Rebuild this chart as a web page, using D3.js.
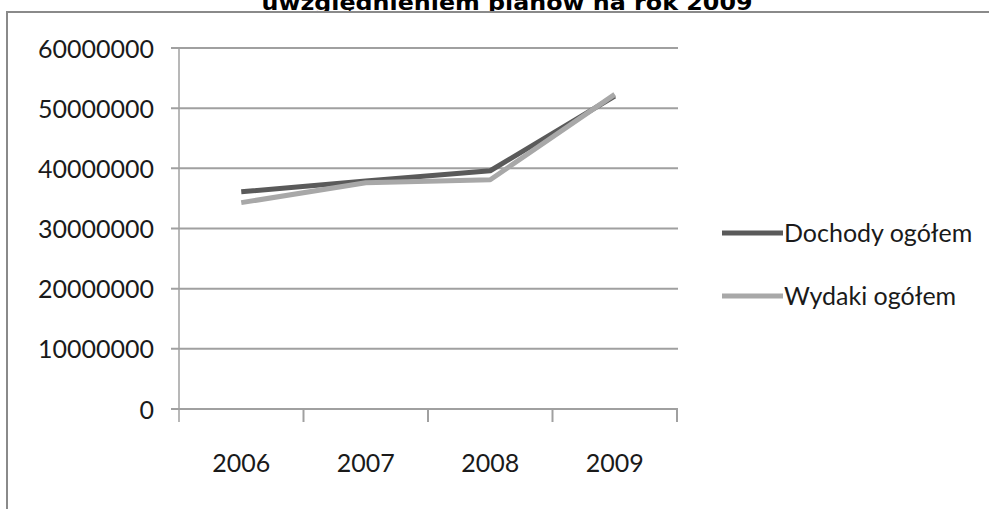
<!DOCTYPE html>
<html><head><meta charset="utf-8">
<script src="https://cdn.jsdelivr.net/npm/d3@7/dist/d3.min.js"></script>
<style>html,body{margin:0;padding:0;background:#fff;overflow:hidden}</style>
</head><body>
<svg id="c" width="989" height="509"></svg>
<script>
const years = ["2006","2007","2008","2009"];
const dochody = [36100000, 37900000, 39600000, 52000000];
const wydatki = [34300000, 37600000, 38100000, 52300000];
const yTicks = [0,10000000,20000000,30000000,40000000,50000000,60000000];
const seriesNames = ["Dochody ogółem","Wydaki ogółem"];
const titleText = "uwzględnieniem planów na rok 2009";

const svg = d3.select("#c");
const font = "Lato, 'Open Sans', sans-serif";

// title (cut off at top, as in the original)
svg.append("text").attr("x",507).attr("y",10).attr("text-anchor","middle")
  .attr("font-family","'DejaVu Sans', Verdana, sans-serif").attr("font-weight","bold")
  .attr("font-size",22).attr("textLength",491).attr("lengthAdjust","spacingAndGlyphs")
  .attr("fill","#000").text(titleText);

// frame
svg.append("rect").attr("x",7).attr("y",12).attr("width",1000).attr("height",520)
  .attr("fill","#fff").attr("stroke","#8a8a8a").attr("stroke-width",2);

const x = d3.scaleBand().domain(years).range([179,677]);
const y = d3.scaleLinear().domain([0,60000000]).range([409,48]);

const gridC = "#a0a0a0";
// gridlines
svg.append("g").selectAll("line").data(yTicks).join("line")
  .attr("x1",171).attr("x2",678).attr("y1",d=>y(d)).attr("y2",d=>y(d))
  .attr("stroke",gridC).attr("stroke-width",2);

// y axis
const ya = svg.append("g").attr("transform","translate(179,0)")
  .call(d3.axisLeft(y).tickValues(yTicks).tickSize(0).tickPadding(25).tickFormat(d3.format("d")));
ya.select(".domain").remove();
ya.selectAll("text").attr("font-family",font).attr("font-size",25).attr("fill","#1a1a1a").attr("dy","0.36em");
svg.append("line").attr("x1",179).attr("x2",179).attr("y1",y(60000000)).attr("y2",422)
  .attr("stroke",gridC).attr("stroke-width",1.5);

// x axis
const xa = svg.append("g").attr("transform","translate(0,409)")
  .call(d3.axisBottom(x).tickSize(0).tickPadding(45));
xa.select(".domain").remove();
xa.selectAll("text").attr("font-family",font).attr("font-size",25).attr("fill","#1a1a1a");
const bounds = years.map(d=>x(d)+x.bandwidth());
svg.append("g").selectAll("line").data(bounds).join("line")
  .attr("x1",d=>d).attr("x2",d=>d).attr("y1",409).attr("y2",422)
  .attr("stroke",gridC).attr("stroke-width",2);

const line = d3.line().x((d,i)=>x(years[i])+x.bandwidth()/2).y(d=>y(d));
const colors = ["#5a5a5a","#a8a8a8"];
[dochody, wydatki].forEach((s,k)=>{
  svg.append("path").datum(s).attr("d",line).attr("fill","none")
    .attr("stroke",colors[k]).attr("stroke-width",5).attr("stroke-linejoin","round");
});

// legend
const lg = svg.append("g");
seriesNames.forEach((n,k)=>{
  const yy = 233 + k*63;
  lg.append("line").attr("x1",722).attr("x2",783).attr("y1",yy).attr("y2",yy)
    .attr("stroke",colors[k]).attr("stroke-width",5);
  lg.append("text").attr("x",784).attr("y",yy).attr("dy","0.36em")
    .attr("font-family",font).attr("font-size",25).attr("fill","#1a1a1a").text(n);
});
</script>
</body></html>
